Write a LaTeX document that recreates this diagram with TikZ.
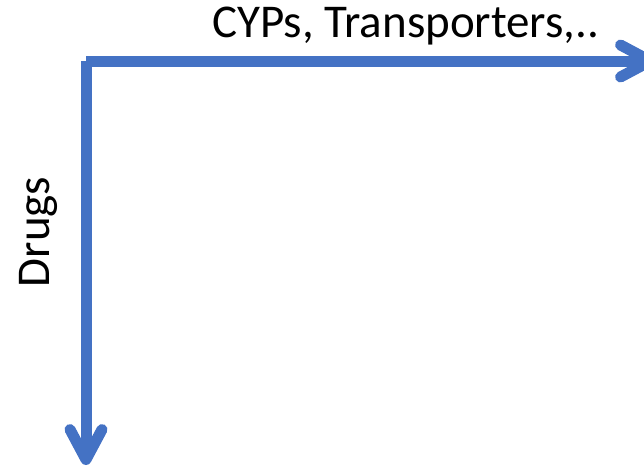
\documentclass[tikz,border=0pt]{standalone}
\usepackage{fontspec}
\setmainfont{Carlito}
\usetikzlibrary{arrows.meta}
\definecolor{axisblue}{RGB}{68,114,196}
\tikzset{
  axis/.style={draw=axisblue, line width=11pt, line cap=butt, line join=round,
    -{Straight Barb[length=30pt,width=32pt,round]}},
  lbl/.style={font=\fontsize{47}{56}\selectfont, inner sep=0pt, text=black}
}
\begin{document}
\begin{tikzpicture}[x=1pt,y=-1pt]
\useasboundingbox (0,0) rectangle (644,467);
\clip (0,0) rectangle (644,467);
\coordinate (hs) at (86,61);
\coordinate (he) at (656,61);
\coordinate (vs) at (86,61);
\coordinate (ve) at (86,465);
\draw[axis] (hs) -- (he);
\draw[axis] (vs) -- (ve);
\node[lbl, anchor=base west] (t1) at (212,37) {CYPs, Transporters,..};
\node[lbl, anchor=base, rotate=90] (t2) at (49,232) {Drugs};
\end{tikzpicture}
\end{document}
